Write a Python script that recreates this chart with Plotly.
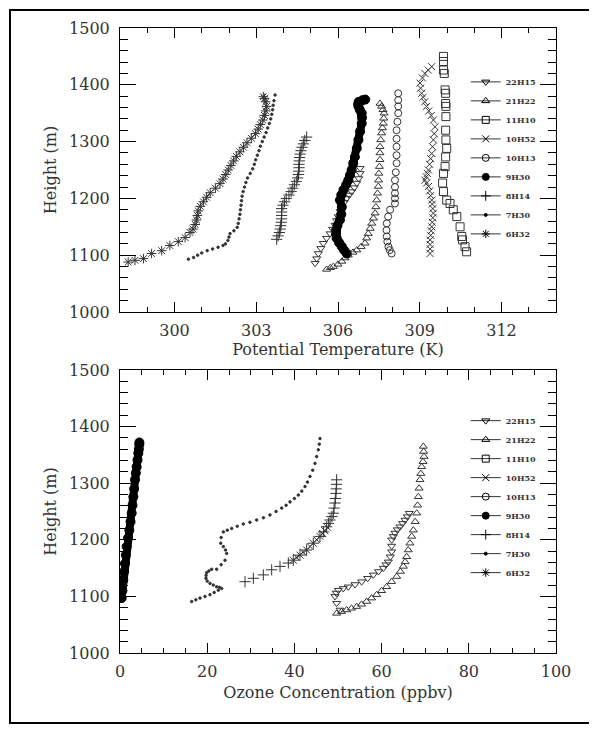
import plotly.graph_objects as go

# ---------------- labels ----------------
series_labels = ["22H15", "21H22", "11H10", "10H52", "10H13", "9H30", "8H14", "7H30", "6H32"]
x_title_top = "Potential Temperature (K)"
x_title_bot = "Ozone Concentration (ppbv)"
y_title = "Height (m)"

# ---------------- top panel: potential temperature (K) ----------------
pt_6h32_T = [298.30, 298.55, 298.86, 299.16, 299.53, 299.83, 300.14, 300.39, 300.57, 300.68, 300.76,
             300.81, 300.84, 300.87, 300.95, 301.06, 301.18, 301.31, 301.50, 301.67, 301.78, 301.88,
             301.97, 302.07, 302.17, 302.27, 302.40, 302.53, 302.66, 302.82, 302.97, 303.07, 303.15,
             303.24, 303.30, 303.35, 303.38, 303.35, 303.30, 303.26]
pt_6h32_H = [1088, 1091, 1094, 1103, 1108, 1117, 1124, 1131, 1140, 1146, 1154,
             1162, 1170, 1178, 1186, 1194, 1202, 1210, 1218, 1226, 1234, 1242,
             1250, 1258, 1266, 1274, 1282, 1290, 1298, 1306, 1314, 1322, 1330,
             1338, 1346, 1354, 1362, 1370, 1376, 1379]

pt_7h30_T = [300.51, 300.70, 300.85, 301.00, 301.20, 301.40, 301.60, 301.78, 301.87, 301.96, 302.00,
             302.04, 302.18, 302.30, 302.34, 302.37, 302.40, 302.42, 302.44, 302.46, 302.48, 302.52,
             302.57, 302.62, 302.68, 302.78, 302.87, 302.93, 302.98, 303.04, 303.10, 303.15, 303.22,
             303.29, 303.36, 303.42, 303.48, 303.53, 303.57, 303.60, 303.62, 303.65, 303.69]
pt_7h30_H = [1093, 1096, 1100, 1104, 1108, 1111, 1114, 1117, 1120, 1126, 1132,
             1138, 1143, 1149, 1156, 1164, 1172, 1180, 1188, 1196, 1204, 1212,
             1220, 1228, 1236, 1244, 1252, 1260, 1268, 1276, 1284, 1292, 1300,
             1308, 1316, 1324, 1332, 1340, 1348, 1356, 1364, 1372, 1382]

pt_8h14_T = [303.75, 303.80, 303.85, 303.88, 303.90, 303.92, 303.93, 303.93, 303.93, 303.93, 303.98,
             304.04, 304.10, 304.20, 304.28, 304.34, 304.40, 304.47, 304.52, 304.55, 304.56, 304.57,
             304.57, 304.58, 304.59, 304.61, 304.64, 304.68, 304.73, 304.78, 304.85]
pt_8h14_H = [1128, 1134, 1140, 1146, 1152, 1158, 1164, 1170, 1176, 1182, 1188,
             1194, 1200, 1206, 1212, 1218, 1224, 1230, 1236, 1242, 1248, 1254,
             1260, 1266, 1272, 1278, 1284, 1290, 1296, 1302, 1308]

pt_9h30_T = [306.32, 306.22, 306.14, 306.04, 305.95, 305.93, 305.93, 305.98, 306.07, 306.12, 306.14,
             306.07, 306.12, 306.20, 306.30, 306.38, 306.44, 306.50, 306.56, 306.62, 306.69, 306.75,
             306.81, 306.87, 306.88, 306.87, 306.80, 306.75, 306.74, 306.76, 306.90, 307.00]
pt_9h30_H = [1103, 1109, 1115, 1122, 1130, 1137, 1144, 1152, 1162, 1172, 1185,
             1197, 1206, 1215, 1224, 1232, 1241, 1250, 1262, 1273, 1288, 1303,
             1318, 1332, 1342, 1350, 1356, 1362, 1366, 1370, 1373, 1374]

pt_22h15_T = [305.16, 305.22, 305.28, 305.37, 305.46, 305.58, 305.71, 305.80, 305.89, 305.95, 306.01,
              306.08, 306.14, 306.23, 306.32, 306.41, 306.50, 306.60, 306.69, 306.76, 306.81, 306.81]
pt_22h15_H = [1086, 1094, 1103, 1112, 1121, 1130, 1138, 1146, 1153, 1161, 1168,
              1177, 1185, 1193, 1200, 1206, 1212, 1219, 1227, 1235, 1244, 1253]

pt_21h22_T = [305.58, 305.72, 305.83, 306.00, 306.14, 306.26, 306.38, 306.55, 306.69, 306.85, 306.99,
              307.05, 307.11, 307.18, 307.24, 307.30, 307.36, 307.39, 307.42, 307.45, 307.48, 307.49,
              307.50, 307.52, 307.54, 307.54, 307.54, 307.57, 307.60, 307.63, 307.66, 307.68, 307.69,
              307.65, 307.60, 307.54]
pt_21h22_H = [1075, 1078, 1080, 1084, 1089, 1095, 1100, 1105, 1109, 1115, 1121,
              1130, 1138, 1147, 1156, 1165, 1174, 1185, 1197, 1209, 1221, 1232,
              1244, 1256, 1268, 1280, 1291, 1303, 1315, 1324, 1332, 1341, 1350,
              1356, 1362, 1367]

pt_10h13_T = [307.97, 307.90, 307.85, 307.81, 307.79, 307.78, 307.79, 307.84, 307.91, 308.09, 308.09,
              308.09, 308.09, 308.09, 308.12, 308.15, 308.15, 308.15, 308.15, 308.15, 308.18, 308.21,
              308.21, 308.21, 308.21]
pt_10h13_H = [1103, 1109, 1115, 1124, 1133, 1144, 1156, 1168, 1180, 1191, 1200,
              1209, 1220, 1232, 1246, 1262, 1276, 1291, 1305, 1320, 1335, 1350,
              1362, 1373, 1385]

pt_10h52_T = [309.38, 309.38, 309.38, 309.38, 309.40, 309.42, 309.44, 309.46, 309.48, 309.50, 309.48,
              309.46, 309.44, 309.40, 309.36, 309.32, 309.25, 309.19, 309.24, 309.28, 309.32, 309.36,
              309.40, 309.44, 309.47, 309.50, 309.53, 309.56, 309.50, 309.42, 309.33, 309.25, 309.18,
              309.12, 309.07, 309.03, 309.01, 309.10, 309.19, 309.31, 309.44]
pt_10h52_H = [1103, 1111, 1119, 1127, 1135, 1143, 1150, 1158, 1166, 1174, 1182,
              1190, 1197, 1205, 1213, 1221, 1227, 1232, 1238, 1244, 1250, 1260,
              1270, 1279, 1291, 1303, 1314, 1326, 1338, 1346, 1354, 1362, 1370,
              1378, 1385, 1394, 1403, 1412, 1420, 1426, 1432]

pt_11h10_T = [309.87, 309.87, 309.87, 309.90, 309.93, 309.95, 309.95, 309.96, 309.96, 309.95, 309.96,
              309.99, 309.95, 309.93, 309.87, 309.84, 309.87, 309.99, 310.11, 310.23, 310.36, 310.48,
              310.54, 310.57, 310.66, 310.72]
pt_11h10_H = [1450, 1441, 1426, 1420, 1391, 1385, 1367, 1362, 1344, 1320, 1303,
              1288, 1273, 1256, 1244, 1227, 1212, 1197, 1191, 1180, 1168, 1150,
              1133, 1127, 1115, 1106]

# ---------------- bottom panel: ozone (ppbv) ----------------
oz_9h30_C = [0.38, 0.55, 0.76, 0.95, 1.15, 1.34, 1.53, 1.84, 2.14, 2.42, 2.68,
             2.87, 3.06, 3.25, 3.44, 3.63, 3.82, 4.01, 4.20, 4.33, 4.43, 4.45]
oz_9h30_H = [1097, 1110, 1129, 1144, 1158, 1173, 1188, 1203, 1217, 1232, 1247,
             1261, 1276, 1290, 1306, 1318, 1329, 1341, 1353, 1360, 1368, 1372]

oz_7h30_C = [16.44, 17.4, 18.35, 19.5, 20.64, 21.6, 22.55, 23.32, 22.8, 22.17, 21.4, 20.64, 20.0, 19.72,
             19.75, 19.88, 20.4, 21.03, 22.17, 23.2, 24.08, 24.47, 24.2, 23.70, 23.10, 23.2, 23.70,
             24.6, 25.61, 26.9, 28.28, 29.8, 31.35, 32.9, 34.40, 35.8, 37.09, 38.1, 38.99, 40.0,
             40.90, 41.7, 42.43, 43.0, 43.58, 44.2, 44.72, 45.1, 45.48, 45.7, 45.87]
oz_7h30_H = [1091, 1094, 1097, 1100, 1103, 1107, 1111, 1114, 1116, 1117, 1120, 1123, 1127, 1132,
             1137, 1142, 1145, 1148, 1148, 1156, 1164, 1176, 1182, 1188, 1194, 1204, 1214,
             1217, 1220, 1224, 1228, 1231, 1235, 1239, 1244, 1250, 1256, 1261, 1267, 1273,
             1279, 1286, 1294, 1302, 1312, 1323, 1335, 1347, 1359, 1369, 1379]

oz_8h14_C = [28.67, 30.58, 32.87, 34.79, 36.70, 38.61, 39.75, 41.28, 42.81, 44.34, 45.87, 46.7,
             47.40, 47.8, 48.17, 48.6, 48.93, 49.1, 49.31, 49.4, 49.54, 49.6, 49.65, 49.69]
oz_8h14_H = [1126, 1132, 1138, 1147, 1153, 1159, 1164, 1173, 1182, 1194, 1206, 1214,
             1223, 1229, 1235, 1241, 1247, 1256, 1265, 1273, 1282, 1290, 1298, 1306]

oz_10h52_C = [39.75, 40.5, 41.28, 42.0, 42.81, 43.6, 44.34, 45.1, 45.87, 46.5, 47.0, 47.6]
oz_10h52_H = [1164, 1169, 1173, 1178, 1182, 1188, 1194, 1200, 1206, 1211, 1216, 1222]

oz_22h15_C = [50.46, 49.69, 49.31, 49.6, 50.07, 51.2, 52.36, 53.9, 55.43, 56.8, 58.10, 59.3, 60.39,
              61.0, 61.54, 62.0, 62.31, 62.31, 62.31, 62.7, 63.07, 63.6, 64.22, 64.8, 65.37, 65.9, 66.36]
oz_22h15_H = [1076, 1088, 1100, 1106, 1111, 1114, 1117, 1121, 1126, 1132, 1138, 1144, 1150,
              1156, 1161, 1170, 1179, 1189, 1200, 1206, 1212, 1218, 1223, 1229, 1235, 1241, 1247]

oz_21h22_C = [49.69, 50.8, 51.99, 53.1, 54.28, 55.4, 56.57, 57.7, 58.87, 60.0, 61.16, 62.3, 63.46,
              64.3, 64.98, 65.4, 65.75, 66.1, 66.51, 66.9, 67.28, 67.7, 68.05, 68.25, 68.42, 68.6,
              68.81, 69.0, 69.19, 69.5, 69.72, 69.65, 69.57]
oz_21h22_H = [1070, 1073, 1076, 1079, 1082, 1086, 1091, 1097, 1103, 1110, 1117, 1126, 1135,
              1144, 1153, 1161, 1170, 1182, 1194, 1206, 1217, 1232, 1247, 1261, 1276, 1291,
              1306, 1317, 1329, 1338, 1347, 1356, 1365]

# ---------------- figure ----------------
FONT = "DejaVu Serif"
INK = "#333333"
sym = {"22H15": "triangle-down-open", "21H22": "triangle-up-open", "11H10": "square-open",
       "10H52": "x-thin-open", "10H13": "circle-open", "9H30": "circle", "8H14": "cross-thin-open",
       "7H30": "circle", "6H32": "asterisk-open"}
msize = {"22H15": 7, "21H22": 7, "11H10": 8, "10H52": 7, "10H13": 7, "9H30": 9, "8H14": 8,
         "7H30": 2.5, "6H32": 8}

fig = go.Figure()


def add_series(x, y, label, xa, ya):
    thick = label == "9H30"
    fig.add_trace(go.Scatter(
        x=x, y=y, xaxis=xa, yaxis=ya, name=label, showlegend=False,
        mode="lines+markers" if thick else "markers",
        line=dict(color="black", width=8),
        marker=dict(symbol=sym[label], size=msize[label], color="black" if thick else INK,
                    line=dict(color="black" if thick else INK, width=1)),
        hoverinfo="skip"))


top = {"6H32": (pt_6h32_T, pt_6h32_H), "7H30": (pt_7h30_T, pt_7h30_H), "8H14": (pt_8h14_T, pt_8h14_H),
       "22H15": (pt_22h15_T, pt_22h15_H), "21H22": (pt_21h22_T, pt_21h22_H),
       "10H13": (pt_10h13_T, pt_10h13_H), "10H52": (pt_10h52_T, pt_10h52_H),
       "11H10": (pt_11h10_T, pt_11h10_H), "9H30": (pt_9h30_T, pt_9h30_H)}
for lab, (xx, yy) in top.items():
    add_series(xx, yy, lab, "x", "y")

bot = {"7H30": (oz_7h30_C, oz_7h30_H), "8H14": (oz_8h14_C, oz_8h14_H), "10H52": (oz_10h52_C, oz_10h52_H),
       "22H15": (oz_22h15_C, oz_22h15_H), "21H22": (oz_21h22_C, oz_21h22_H), "9H30": (oz_9h30_C, oz_9h30_H)}
for lab, (xx, yy) in bot.items():
    add_series(xx, yy, lab, "x2", "y2")

# legend-only entries for both panels
for leg, xa, ya in (("legend", "x", "y"), ("legend2", "x2", "y2")):
    for lab in series_labels:
        fig.add_trace(go.Scatter(
            x=[None], y=[None], xaxis=xa, yaxis=ya, name=lab, legend=leg, showlegend=True,
            mode="lines+markers", line=dict(color="#333333", width=1),
            marker=dict(symbol=sym[lab], size=min(msize[lab], 7) if lab != "7H30" else 3,
                        color="black", line=dict(color="black", width=1))))

axis_common = dict(showline=True, linecolor="black", linewidth=1, mirror="ticks", ticks="inside",
                   tickcolor="black", tickwidth=1, showgrid=False, zeroline=False, tickmode="linear",
                   tickfont=dict(family=FONT, size=16, color="#333333"),
                   title_font=dict(family=FONT, size=16, color="#333333"))

fig.update_layout(
    width=589, height=721, paper_bgcolor="white", plot_bgcolor="white",
    margin=dict(l=112, r=41, t=20, b=76),
    font=dict(family=FONT, color="black"),
    xaxis=dict(domain=[0, 1], anchor="y", range=[298, 314], tick0=300, dtick=3, ticklen=10,
               ticklabelstandoff=4,
               minor=dict(dtick=1, tick0=298, ticks="inside", ticklen=5, tickcolor="black"),
               title=dict(text=x_title_top, standoff=4), **axis_common),
    yaxis=dict(domain=[0.5456, 1.0], anchor="x", range=[1000, 1500], tick0=1000, dtick=100, ticklen=16,
               ticklabelstandoff=6,
               minor=dict(dtick=20, ticks="inside", ticklen=8, tickcolor="black"),
               title=dict(text=y_title, standoff=8), **axis_common),
    xaxis2=dict(domain=[0, 1], anchor="y2", range=[0, 100], tick0=0, dtick=20, ticklen=10,
                ticklabelstandoff=4,
                minor=dict(dtick=5, ticks="inside", ticklen=5, tickcolor="black"),
                title=dict(text=x_title_bot, standoff=6), **axis_common),
    yaxis2=dict(domain=[0.0, 0.4528], anchor="x2", range=[1000, 1500], tick0=1000, dtick=100, ticklen=16,
                ticklabelstandoff=6,
                minor=dict(dtick=20, ticks="inside", ticklen=8, tickcolor="black"),
                title=dict(text=y_title, standoff=8), **axis_common),
    legend=dict(x=0.793, y=0.937, xanchor="left", yanchor="top", bgcolor="rgba(0,0,0,0)",
                font=dict(family=FONT, size=8, color="#333333", weight="bold"), itemwidth=30,
                tracegroupgap=0),
    legend2=dict(x=0.793, y=0.395, xanchor="left", yanchor="top", bgcolor="rgba(0,0,0,0)",
                 font=dict(family=FONT, size=8, color="#333333", weight="bold"), itemwidth=30,
                 tracegroupgap=0),
    shapes=[dict(type="rect", xref="paper", yref="paper", x0=-0.2523, x1=1.12, y0=-0.112, y1=1.0288,
                 line=dict(color="black", width=2), fillcolor="rgba(0,0,0,0)", layer="below")],
)

fig.write_html("out.html")
